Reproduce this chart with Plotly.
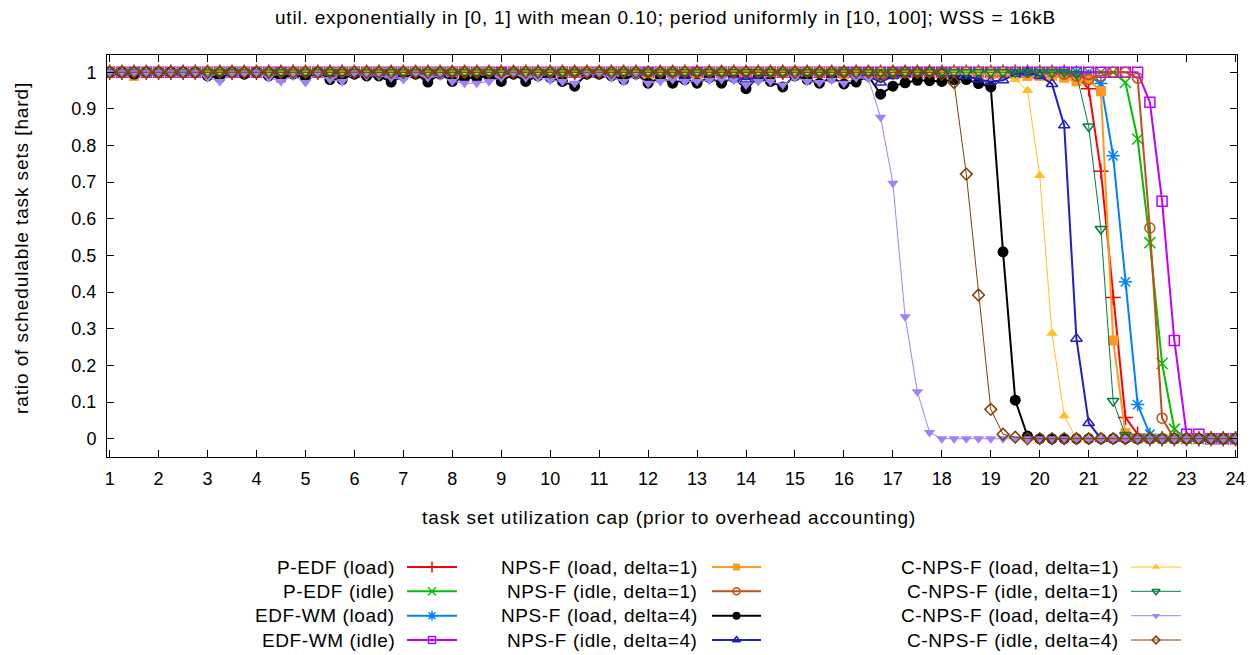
import plotly.graph_objects as go

# x: task set utilization cap, 1.0 .. 24.0 step 0.25 (93 points)
x_vals = [1 + i * 0.25 for i in range(93)]

# rows: 1.0-5.75 | 6.0-10.75 | 11.0-15.75 | 16.0-20.75 | 21.0-24.0
pedf_load = [
    1, 1, 1, 1, 1, 1, 1, 1, 1, 1, 1, 1, 1, 1, 1, 1, 1, 1, 1, 1,
    1, 1, 1, 1, 1, 1, 1, 1, 1, 1, 1, 1, 1, 1, 1, 1, 1, 1, 1, 1,
    1, 1, 1, 1, 0.995, 1, 1, 1, 1, 1, 1, 1, 1, 1, 1, 1, 1, 1, 1, 1,
    1, 1, 1, 1, 1, 1, 1, 1, 1, 1, 1, 1, 1, 1, 1, 1, 1, 1, 1, 0.99,
    0.955, 0.73, 0.385, 0.058, 0.012, 0, 0, 0, 0, 0, 0, 0, 0]
pedf_idle = [
    1, 1, 1, 1, 1, 1, 1, 1, 1, 1, 1, 1, 1, 1, 1, 1, 1, 1, 1, 1,
    1, 1, 1, 1, 1, 1, 1, 1, 1, 1, 1, 1, 1, 1, 1, 1, 1, 1, 1, 1,
    1, 1, 1, 1, 1, 1, 1, 1, 1, 1, 1, 1, 1, 1, 1, 1, 1, 1, 1, 1,
    1, 1, 1, 1, 1, 1, 1, 1, 1, 1, 1, 1, 1, 1, 1, 1, 1, 1, 1, 1,
    1, 1, 1, 0.972, 0.818, 0.535, 0.205, 0.026, 0, 0, 0, 0, 0]
edfwm_load = [
    1, 1, 1, 1, 1, 1, 1, 1, 1, 1, 1, 1, 1, 1, 1, 1, 1, 1, 1, 1,
    1, 1, 1, 1, 1, 1, 1, 1, 1, 1, 1, 1, 1, 1, 1, 1, 1, 1, 1, 1,
    1, 1, 1, 1, 1, 1, 1, 1, 1, 1, 1, 1, 1, 1, 1, 1, 1, 1, 1, 1,
    1, 1, 1, 1, 1, 1, 1, 1, 1, 1, 1, 1, 1, 1, 1, 1, 1, 1, 1, 1,
    0.99, 0.969, 0.772, 0.428, 0.093, 0.012, 0, 0, 0, 0, 0, 0, 0]
edfwm_idle = [
    1, 1, 1, 1, 1, 1, 1, 1, 1, 1, 1, 1, 1, 1, 1, 1, 1, 1, 1, 1,
    1, 1, 1, 1, 1, 1, 1, 1, 1, 1, 1, 1, 1, 1, 1, 1, 1, 1, 1, 1,
    1, 1, 1, 1, 1, 1, 1, 1, 1, 1, 1, 1, 1, 1, 1, 1, 1, 1, 1, 1,
    1, 1, 1, 1, 1, 1, 1, 1, 1, 1, 1, 1, 1, 1, 1, 1, 1, 1, 1, 1,
    1, 1, 1, 1, 1, 0.918, 0.648, 0.268, 0.012, 0.012, 0, 0, 0]
npsf_load_d1 = [
    1, 1, 0.99, 1, 1, 1, 1, 1, 1, 1, 1, 1, 1, 1, 0.985, 1, 1, 1, 1, 1,
    1, 1, 1, 1, 1, 1, 1, 1, 1, 1, 1, 1, 0.99, 1, 1, 1, 1, 1, 1, 1,
    1, 1, 1, 1, 0.99, 1, 1, 1, 0.99, 1, 1, 1, 1, 1, 1, 1, 1, 1, 1, 1,
    0.995, 0.995, 0.995, 0.995, 0.995, 0.995, 0.995, 0.995, 0.995, 0.995, 0.995, 0.995, 0.995, 0.995, 0.995, 0.99, 0.99, 0.99, 0.985, 0.975,
    0.98, 0.948, 0.268, 0.015, 0, 0, 0, 0, 0, 0, 0, 0, 0]
npsf_idle_d1 = [
    1, 1, 1, 1, 1, 1, 1, 1, 1, 1, 1, 1, 1, 1, 1, 1, 1, 1, 1, 1,
    1, 1, 1, 1, 1, 1, 1, 1, 1, 1, 1, 1, 1, 1, 1, 1, 1, 1, 1, 1,
    1, 1, 1, 1, 1, 1, 1, 1, 1, 1, 1, 1, 1, 1, 1, 1, 1, 1, 1, 1,
    1, 1, 1, 1, 1, 1, 1, 1, 1, 1, 1, 1, 1, 1, 1, 1, 1, 1, 0.995, 0.99,
    0.98, 0.99, 1, 1, 0.984, 0.575, 0.056, 0, 0, 0, 0, 0, 0]
npsf_load_d4 = [
    1, 1, 0.995, 1, 1, 1, 1, 1, 0.99, 0.985, 1, 0.995, 1, 0.99, 0.985, 0.995, 0.985, 1, 0.98, 0.98,
    0.995, 0.99, 0.99, 0.973, 0.99, 0.995, 0.973, 0.995, 0.975, 0.985, 0.985, 0.99, 0.975, 0.995, 0.975, 0.99, 0.985, 0.975, 0.962, 0.995,
    0.995, 0.99, 0.98, 0.995, 0.97, 0.985, 0.97, 0.98, 0.97, 0.985, 0.97, 0.985, 0.955, 0.985, 0.975, 0.96, 0.99, 0.98, 0.97, 0.985,
    0.968, 0.973, 0.99, 0.94, 0.962, 0.971, 0.978, 0.977, 0.975, 0.98, 0.98, 0.969, 0.96, 0.51, 0.105, 0.007, 0, 0, 0, 0,
    0, 0, 0, 0, 0, 0, 0, 0, 0, 0, 0, 0, 0]
npsf_idle_d4 = [
    1, 1, 1, 1, 1, 1, 1, 1, 1, 1, 1, 1, 1, 1, 1, 1, 1, 1, 1, 1,
    1, 1, 1, 1, 1, 1, 1, 1, 1, 1, 1, 1, 1, 1, 1, 1, 1, 1, 1, 1,
    1, 1, 1, 1, 1, 1, 1, 0.99, 1, 1, 1, 0.985, 0.98, 0.985, 1, 1, 1, 1, 1, 1,
    1, 0.995, 0.99, 0.972, 0.99, 0.995, 1, 1, 1, 0.995, 0.99, 0.98, 0.975, 0.978, 0.995, 1, 0.99, 0.968, 0.855, 0.273,
    0.043, 0, 0, 0, 0, 0, 0, 0, 0, 0, 0, 0, 0]
cnpsf_load_d1 = [
    1, 1, 1, 1, 1, 1, 1, 1, 1, 1, 1, 1, 1, 1, 1, 1, 1, 1, 1, 1,
    1, 1, 1, 1, 1, 1, 1, 1, 1, 1, 1, 1, 1, 1, 1, 1, 1, 1, 1, 1,
    1, 1, 1, 1, 1, 1, 1, 1, 1, 1, 1, 1, 1, 1, 1, 1, 1, 1, 1, 1,
    1, 1, 1, 1, 1, 1, 1, 1, 1, 1, 1, 1, 1, 1, 0.98, 0.95, 0.718, 0.288, 0.062, 0,
    0, 0, 0, 0, 0, 0, 0, 0, 0, 0, 0, 0, 0]
cnpsf_idle_d1 = [
    1, 1, 1, 1, 1, 1, 1, 1, 1, 1, 1, 1, 1, 1, 1, 1, 1, 1, 1, 1,
    1, 1, 1, 1, 1, 1, 1, 1, 1, 1, 1, 1, 1, 1, 1, 1, 1, 1, 1, 1,
    1, 1, 1, 1, 1, 1, 1, 1, 1, 1, 1, 1, 1, 1, 1, 1, 1, 1, 1, 1,
    1, 1, 1, 1, 1, 1, 1, 1, 1, 1, 1, 1, 1, 1, 1, 1, 1, 1, 1, 0.995,
    0.852, 0.572, 0.103, 0.01, 0, 0, 0, 0, 0, 0, 0, 0, 0]
cnpsf_load_d4 = [
    1, 1, 1, 1, 1, 1, 1, 1, 0.985, 0.975, 0.995, 0.995, 1, 0.985, 0.975, 0.99, 0.972, 0.995, 0.98, 0.975,
    0.995, 0.99, 0.99, 0.985, 0.98, 0.995, 0.985, 0.99, 0.975, 0.97, 0.97, 0.975, 0.985, 0.995, 0.985, 0.985, 0.978, 0.975, 0.97, 0.995,
    0.995, 0.985, 0.975, 0.99, 0.97, 0.975, 0.98, 0.975, 0.975, 0.978, 0.98, 0.978, 0.965, 0.975, 0.975, 0.965, 0.985, 0.975, 0.972, 0.978,
    0.97, 0.985, 0.983, 0.877, 0.697, 0.333, 0.128, 0.017, 0, 0, 0, 0, 0, 0, 0, 0, 0, 0, 0, 0,
    0, 0, 0, 0, 0, 0, 0, 0, 0, 0, 0, 0, 0]
cnpsf_idle_d4 = [
    1, 1, 1, 1, 1, 1, 1, 1, 1, 1, 1, 1, 1, 1, 1, 1, 1, 1, 1, 1,
    1, 1, 1, 1, 1, 1, 1, 1, 1, 1, 1, 1, 1, 1, 1, 1, 1, 1, 1, 1,
    1, 1, 1, 1, 1, 1, 1, 1, 1, 1, 1, 1, 1, 1, 1, 1, 1, 1, 1, 1,
    1, 1, 1, 0.99, 1, 1, 1, 1, 0.995, 0.972, 0.722, 0.392, 0.08, 0.012, 0.004, 0, 0, 0, 0, 0,
    0, 0, 0, 0, 0, 0, 0, 0, 0, 0, 0, 0, 0]

series_names = [
    "P-EDF (load)", "P-EDF (idle)", "EDF-WM (load)", "EDF-WM (idle)",
    "NPS-F (load, delta=1)", "NPS-F (idle, delta=1)", "NPS-F (load, delta=4)", "NPS-F (idle, delta=4)",
    "C-NPS-F (load, delta=1)", "C-NPS-F (idle, delta=1)", "C-NPS-F (load, delta=4)", "C-NPS-F (idle, delta=4)",
]
series_values = [
    pedf_load, pedf_idle, edfwm_load, edfwm_idle,
    npsf_load_d1, npsf_idle_d1, npsf_load_d4, npsf_idle_d4,
    cnpsf_load_d1, cnpsf_idle_d1, cnpsf_load_d4, cnpsf_idle_d4,
]
x_tick_vals = list(range(1, 25))
y_tick_vals = [0, 0.1, 0.2, 0.3, 0.4, 0.5, 0.6, 0.7, 0.8, 0.9, 1]
y_tick_text = ["0", "0.1", "0.2", "0.3", "0.4", "0.5", "0.6", "0.7", "0.8", "0.9", "1"]
title_text = "util. exponentially in [0, 1] with mean 0.10; period uniformly in [10, 100]; WSS = 16kB"
x_title = "task set utilization cap (prior to overhead accounting)"
y_title = "ratio of schedulable task sets [hard]"

# styles
colors = ["#ff0000", "#00c000", "#0080ff", "#c000ff",
          "#ff9a1f", "#c0501b", "#000000", "#2020c0",
          "#ffc020", "#008040", "#a080ff", "#804000"]
symbols = ["cross-thin-open", "x-thin-open", "asterisk-open", "square-open",
           "square", "circle-open", "circle", "triangle-up-open",
           "triangle-up", "triangle-down-open", "triangle-down", "diamond-open"]
line_widths = [2, 2, 2, 2, 2, 2, 2, 2, 1, 1, 1, 1]
marker_sizes = [11, 11, 11, 10, 10, 10, 11, 10, 10, 10, 10, 9]

FONT = "Liberation Sans, Arial, sans-serif"
OFF = 8                      # page body margin of the html page
W, H = 1260 - OFF, 655 - OFF  # figure size
# page pixel positions of the plot frame
PL, PR, PT, PB = 107, 1237, 55, 457
ML = PL - OFF
MR = (OFF + W) - PR
MT = PT - OFF
MB = 10
PW, PH = W - ML - MR, H - MT - MB
main_domain_bottom = (H - MB - (PB - OFF)) / PH


def spaced(t, ls=0.8):
    return '<span style="letter-spacing:%spx">%s</span>' % (ls, t)


fig = go.Figure()

for name, vals, c, sym, lw, ms in zip(series_names, series_values, colors, symbols, line_widths, marker_sizes):
    is_open = sym.endswith("open")
    fig.add_trace(go.Scatter(
        x=x_vals, y=vals, name=name, mode="lines+markers",
        line=dict(color=c, width=lw),
        marker=dict(symbol=sym, size=ms, color=c,
                    line=dict(color=c, width=1.5 if is_open else 0)),
        xaxis="x", yaxis="y", showlegend=False,
    ))

# custom legend (text left, sample right) on hidden axes measured in page pixels
col_text_right = [397, 700, 1121]
col_line = [(407, 457), (712, 761), (1131, 1181)]
row_y = [567, 591.3, 615.7, 640]
annotations = []
for k, (name, c, sym, lw, ms) in enumerate(zip(series_names, colors, symbols, line_widths, marker_sizes)):
    col, row = divmod(k, 4)
    x0, x1 = col_line[col]
    yy = row_y[row]
    is_open = sym.endswith("open")
    fig.add_trace(go.Scatter(
        x=[x0, x1], y=[yy, yy], mode="lines", line=dict(color=c, width=lw),
        xaxis="x2", yaxis="y2", showlegend=False, hoverinfo="skip"))
    fig.add_trace(go.Scatter(
        x=[(x0 + x1) / 2], y=[yy], mode="markers",
        marker=dict(symbol=sym, size=ms - 3, color=c,
                    line=dict(color=c, width=1.5 if is_open else 0)),
        xaxis="x2", yaxis="y2", showlegend=False, hoverinfo="skip"))
    annotations.append(dict(
        x=col_text_right[col], y=yy, xref="x2", yref="y2", text=spaced(name, 0.6),
        xanchor="right", yanchor="middle", showarrow=False,
        font=dict(family=FONT, size=19, color="black")))


def py(page_y):
    return (H - MB - (page_y - OFF)) / PH


def px(page_x):
    return (page_x - OFF - ML) / PW


annotations.append(dict(
    x=px(665), y=py(18), xref="paper", yref="paper", text=spaced(title_text, 0.8),
    showarrow=False, xanchor="center", yanchor="middle",
    font=dict(family=FONT, size=19, color="black")))
annotations.append(dict(
    x=px(669), y=py(517), xref="paper", yref="paper", text=spaced(x_title, 0.9),
    showarrow=False, xanchor="center", yanchor="middle",
    font=dict(family=FONT, size=19, color="black")))
annotations.append(dict(
    x=px(22), y=py(248), xref="paper", yref="paper", text=spaced(y_title, 0.9),
    textangle=-90, showarrow=False, xanchor="center", yanchor="middle",
    font=dict(family=FONT, size=19, color="black")))

fig.update_layout(
    width=W, height=H,
    margin=dict(l=ML, r=MR, t=MT, b=MB),
    paper_bgcolor="white", plot_bgcolor="white",
    showlegend=False,
    font=dict(family=FONT, size=18, color="black"),
    xaxis=dict(
        domain=[0, 1], range=[0.946, 24.03],
        tickmode="array", tickvals=x_tick_vals,
        ticks="inside", ticklen=7, tickwidth=1, tickcolor="black",
        showline=True, linecolor="black", linewidth=1, mirror="ticks",
        showgrid=False, zeroline=False, anchor="y", ticklabelstandoff=5,
        tickfont=dict(family=FONT, size=18),
    ),
    yaxis=dict(
        domain=[main_domain_bottom, 1], range=[-0.05, 1.047],
        tickmode="array", tickvals=y_tick_vals, ticktext=y_tick_text,
        ticks="inside", ticklen=7, tickwidth=1, tickcolor="black",
        showline=True, linecolor="black", linewidth=1, mirror="ticks",
        showgrid=False, zeroline=False, anchor="x", ticklabelstandoff=6,
        tickfont=dict(family=FONT, size=18),
    ),
    xaxis2=dict(domain=[0, 1], range=[PL, PR], visible=False, anchor="y2"),
    yaxis2=dict(domain=[0, 0.3], range=[645, 645 - 0.3 * PH], visible=False, anchor="x2"),
    annotations=annotations,
)

fig.write_html("out.html")
